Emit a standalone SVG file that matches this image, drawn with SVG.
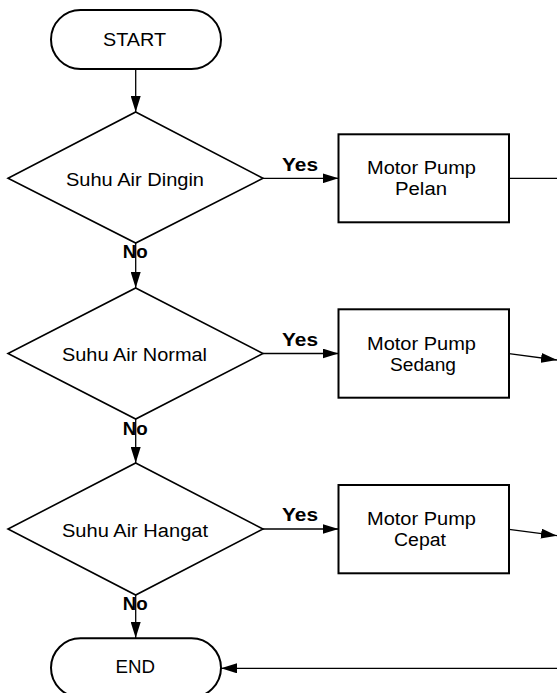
<svg xmlns="http://www.w3.org/2000/svg" width="557" height="693" viewBox="0 0 557 693">
<style>
.shape{fill:#fff;stroke:#000;stroke-width:2}
.dia{fill:#fff;stroke:#000;stroke-width:1.6}
.t{font-family:"Liberation Sans",Arial,sans-serif;font-size:18px;fill:#000}
.t2{font-family:"Liberation Sans",Arial,sans-serif;font-size:18px;fill:#000}
.b{font-family:"Liberation Sans",Arial,sans-serif;font-size:18px;font-weight:bold;fill:#000}
.c{fill:none;stroke:#000;stroke-width:1.3}
</style>
<defs>
<marker id="ah" markerUnits="userSpaceOnUse" markerWidth="16" markerHeight="10" refX="16" refY="5" orient="auto">
<path d="M0,0 L16,5 L0,10 z" fill="#000"/>
</marker>
</defs>
<rect width="557" height="693" fill="#fff"/>
<g id="connectors">
<line class="c" x1="135.7" y1="69" x2="135.7" y2="112" marker-end="url(#ah)"/>
<line class="c" x1="263" y1="178.3" x2="338.5" y2="178.3" marker-end="url(#ah)"/>
<line class="c" x1="509" y1="178.3" x2="557" y2="178.3"/>
<line class="c" x1="135.7" y1="243" x2="135.7" y2="288" marker-end="url(#ah)"/>
<line class="c" x1="263" y1="353.5" x2="338.5" y2="353.5" marker-end="url(#ah)"/>
<line class="c" x1="509" y1="353.7" x2="557" y2="360" marker-end="url(#ah)"/>
<line class="c" x1="135.7" y1="419" x2="135.7" y2="463" marker-end="url(#ah)"/>
<line class="c" x1="263" y1="529" x2="338.5" y2="529" marker-end="url(#ah)"/>
<line class="c" x1="509" y1="529.3" x2="557" y2="535.7" marker-end="url(#ah)"/>
<line class="c" x1="135.7" y1="595" x2="135.7" y2="638" marker-end="url(#ah)"/>
<line class="c" x1="557" y1="668.3" x2="221" y2="668.3" marker-end="url(#ah)"/>
<text class="b" x="282" y="170.7" textLength="36" lengthAdjust="spacingAndGlyphs">Yes</text>
<text class="b" x="282" y="345.7" textLength="36" lengthAdjust="spacingAndGlyphs">Yes</text>
<text class="b" x="282" y="521" textLength="36" lengthAdjust="spacingAndGlyphs">Yes</text>
<text class="b" x="122.7" y="258" textLength="25" lengthAdjust="spacingAndGlyphs">No</text>
<text class="b" x="122.7" y="435" textLength="25" lengthAdjust="spacingAndGlyphs">No</text>
<text class="b" x="122.7" y="609.5" textLength="25" lengthAdjust="spacingAndGlyphs">No</text>
</g>
<g id="start">
<rect class="shape" x="51" y="10" width="170" height="59" rx="29.5"/>
<text class="t" x="103" y="45.7" textLength="63" lengthAdjust="spacingAndGlyphs">START</text>
</g>
<g id="d1">
<polygon class="dia" points="135.7,112 263,178.3 135.7,243 8,178.3"/>
<text class="t" x="66" y="186" textLength="138" lengthAdjust="spacingAndGlyphs">Suhu Air Dingin</text>
</g>
<g id="p1">
<rect class="shape" x="338.5" y="134.3" width="170.5" height="88"/>
<text class="t" x="367" y="174" textLength="109" lengthAdjust="spacingAndGlyphs">Motor Pump</text>
<text class="t2" x="395" y="195" textLength="52" lengthAdjust="spacingAndGlyphs">Pelan</text>
</g>
<g id="d2">
<polygon class="dia" points="135.7,288 263,353.5 135.7,419 8,353.5"/>
<text class="t" x="62" y="361" textLength="145" lengthAdjust="spacingAndGlyphs">Suhu Air Normal</text>
</g>
<g id="p2">
<rect class="shape" x="338.5" y="309.3" width="170.5" height="88.4"/>
<text class="t" x="367" y="349.5" textLength="109" lengthAdjust="spacingAndGlyphs">Motor Pump</text>
<text class="t2" x="390" y="370.5" textLength="66" lengthAdjust="spacingAndGlyphs">Sedang</text>
</g>
<g id="d3">
<polygon class="dia" points="135.7,463 263,529 135.7,595 8,529"/>
<text class="t" x="62" y="536.5" textLength="146" lengthAdjust="spacingAndGlyphs">Suhu Air Hangat</text>
</g>
<g id="p3">
<rect class="shape" x="338.5" y="485" width="170.5" height="88.3"/>
<text class="t" x="367" y="525" textLength="109" lengthAdjust="spacingAndGlyphs">Motor Pump</text>
<text class="t2" x="394" y="546" textLength="52" lengthAdjust="spacingAndGlyphs">Cepat</text>
</g>
<g id="end">
<rect class="shape" x="51" y="638.3" width="170" height="59" rx="29.5"/>
<text class="t" x="115.5" y="673" textLength="39.5" lengthAdjust="spacingAndGlyphs">END</text>
</g>
</svg>
